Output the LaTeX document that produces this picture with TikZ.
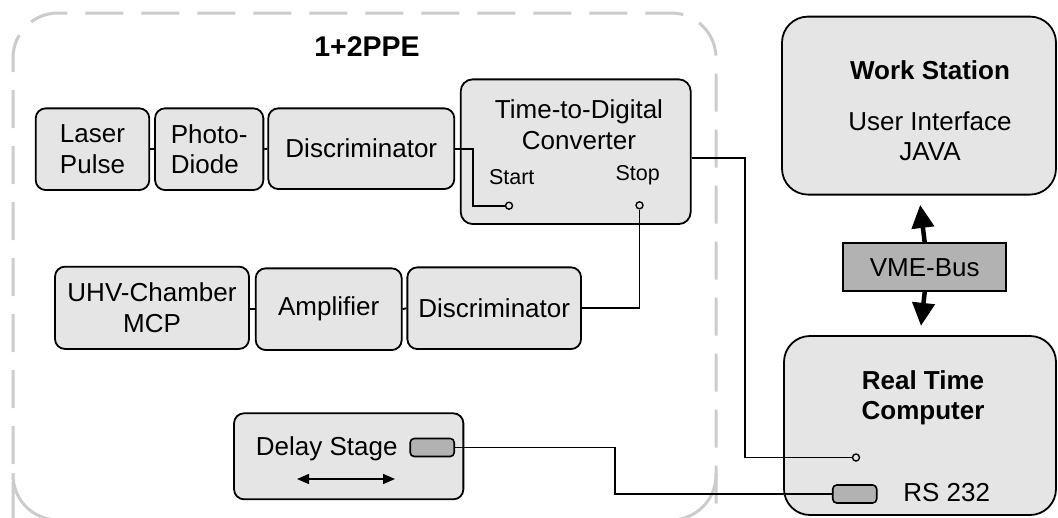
\documentclass[tikz,border=0pt]{standalone}
\usepackage{fontspec}
\setmainfont{Liberation Sans}
\usetikzlibrary{arrows.meta,calc}
\definecolor{boxfill}{gray}{0.9}
\definecolor{portfill}{gray}{0.7}
\definecolor{dashgray}{gray}{0.8}
\begin{document}
\begin{tikzpicture}[x=1pt,y=-1pt,
  txt/.style={font=\fontsize{26}{30.5}\selectfont,inner sep=0pt,align=center},
  small/.style={font=\fontsize{21.5}{25}\selectfont,inner sep=0pt},
  boldtxt/.style={font=\bfseries\fontsize{26}{30}\selectfont,inner sep=0pt,align=center},
  box/.style={draw=black,line width=1.8pt,fill=boxfill,rounded corners=10pt,inner sep=0pt,txt},
  bigbox/.style={draw=black,line width=1.8pt,fill=boxfill,rounded corners=26pt,inner sep=0pt},
  port/.style={draw=black,line width=1.6pt,fill=portfill,rounded corners=4pt,inner sep=0pt,minimum width=44pt,minimum height=18pt},
  jack/.style={circle,draw=black,line width=1.4pt,fill=boxfill,inner sep=0pt,minimum size=7pt},
  wire/.style={draw=black,line width=1.8pt},
  busarrow/.style={line width=4.5pt,-{Triangle[width=22pt,length=23pt]}},
  movearrow/.style={line width=1.6pt,{Triangle[width=10pt,length=12pt]}-{Triangle[width=10pt,length=12pt]}}
]
\useasboundingbox (0,0) rectangle (1058,517);
\clip (0,0) rectangle (1058,517);
% dashed frame
\draw[dashgray,line width=3pt,dash pattern=on 38pt off 18pt,rounded corners=45pt] (13,520) -- (13,13) -- (716,13) -- (716,520);
\draw[dashgray,line width=3pt,rounded corners=45pt] (13,473) -- (13,520) -- (60,520);
\draw[dashgray,line width=3pt,rounded corners=45pt] (716,473) -- (716,520) -- (660,520);
\node[font=\bfseries\fontsize{28.5}{32}\selectfont,inner sep=0pt] (title) at (367,47) {1+2PPE};

% upper chain
\node[box,minimum width=113.6pt,minimum height=81.7pt,align=left] (laser) at (92.5,149.2) {Laser\\Pulse};
\node[box,minimum width=108.3pt,minimum height=81.7pt,align=left] (photo) at (209.2,149.2) {Photo-\\Diode};
\node[box,minimum width=186pt,minimum height=80.7pt] (discA) at (361.3,148.7) {Discriminator};
\node[box,minimum width=230pt,minimum height=144.7pt,rounded corners=12pt] (tdc) at (575.7,151.7) {};
\node[txt] (tdctext) at (579,124.5) {Time-to-Digital\\Converter};
\node[small] (start) at (511.7,177.5) {Start};
\node[small] (stop) at (637.7,175) {Stop};
\node[jack] (startc) at (509,205.7) {};
\node[jack] (stopc) at (639.5,205.3) {};

% lower chain
\node[box,minimum width=194pt,minimum height=82.3pt] (uhv) at (152,307.8) {UHV-Chamber\\MCP};
\node[box,minimum width=146pt,minimum height=81.7pt] (amp) at (328.7,309.2) {Amplifier};
\node[box,minimum width=173.7pt,minimum height=81.7pt] (discB) at (494.2,308.2) {Discriminator};

% delay stage
\node[box,minimum width=229.3pt,minimum height=86pt] (delay) at (348.7,456.3) {};
\node[txt] (delaytext) at (326.7,449) {Delay Stage};
\node[port] (dport) at (432.2,447.5) {};
\coordinate (dl) at (297,479);
\coordinate (dr) at (395,479);
\draw[movearrow] (dl) -- (dr);

% right side
\node[bigbox,minimum width=274pt,minimum height=178pt] (ws) at (919,105.6) {};
\node[boldtxt] (wstitle) at (930,70) {Work Station};
\node[txt] (wstext) at (930,136) {User Interface\\JAVA};
\node[draw=black,line width=1.8pt,fill=portfill,minimum width=162.7pt,minimum height=47.7pt,inner sep=0pt,txt] (vme) at (924.7,267.2) {VME-Bus};
\node[bigbox,minimum width=272pt,minimum height=179pt] (rt) at (920,425.5) {};
\node[boldtxt] (rttext) at (923,398) {Real Time\\Computer};
\node[jack] (rtc) at (856,457.5) {};
\node[port] (rsport) at (854.7,494) {};
\node[txt] (rstext) at (946.7,493) {RS 232};

% connectors
\draw[wire] (laser.east) -- (photo.west);
\draw[wire] (photo.east) -- (discA.west);
\draw[wire] (discA.east) -- ++(17.7,0) |- (startc.west);
\draw[wire] (uhv.east |- amp.west) -- (amp.west);
\draw[wire] (amp.east) -- (discB.west);
\draw[wire] (discB.east) -| (stopc.south);
\draw[wire] ([yshift=-6pt]tdc.east) -- ++(53.6,0) |- (rtc.west);
\draw[wire] (dport.east) -- ++(159.7,0) |- (rsport.west);
\draw[busarrow,shorten >=9.5pt] (vme.north) -- (ws.south);
\draw[busarrow,shorten >=9.3pt] (vme.south) -- (rt.north);
\end{tikzpicture}
\end{document}
